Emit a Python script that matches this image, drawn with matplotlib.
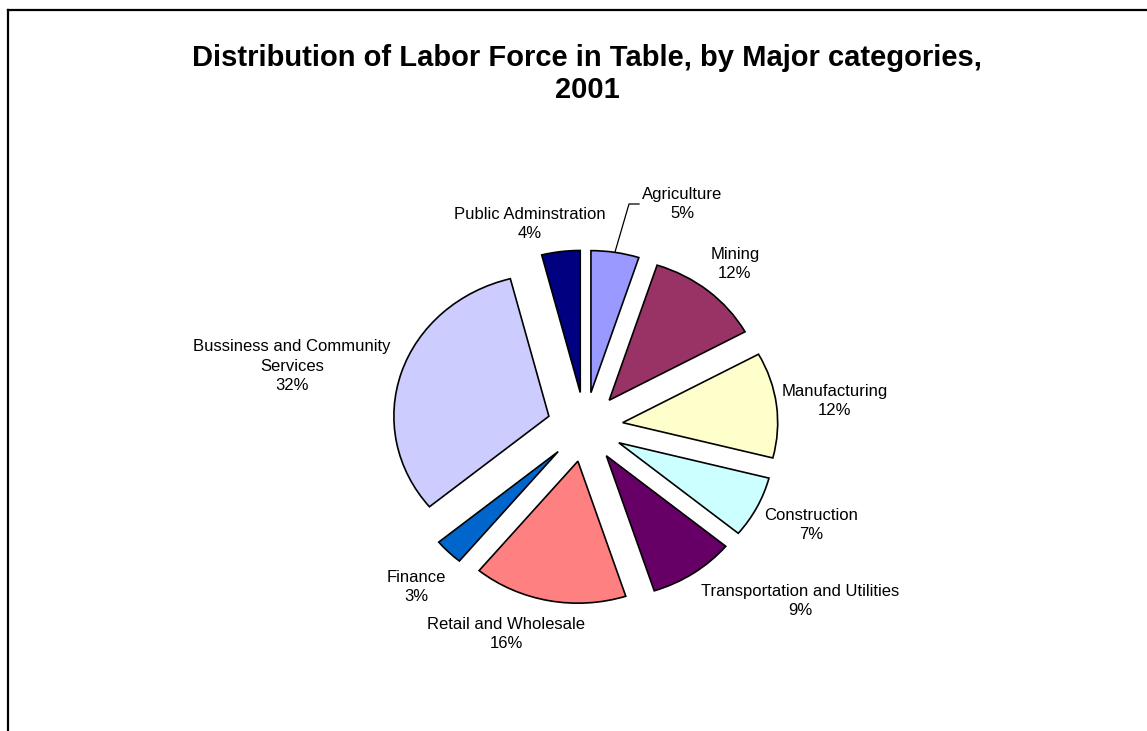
import numpy as np
import matplotlib
matplotlib.use("Agg")
from matplotlib import pyplot as plt
from matplotlib.lines import Line2D

# Répartition de la population active, 2001 (en %)
categories = ["Agriculture", "Mining", "Manufacturing", "Construction",
              "Transportation and Utilities", "Retail and Wholesale",
              "Finance", "Bussiness and Community\nServices",
              "Public Adminstration"]
parts = [5, 12, 12, 7, 9, 16, 3, 32, 4]
couleurs = ["#9999ff", "#993366", "#ffffcc", "#ccffff", "#660066",
            "#ff8080", "#0066cc", "#ccccff", "#000080"]

# position des étiquettes en pixels (x, y depuis le haut)
pos_etiquettes = [(682, 204), (735, 264), (835, 401), (811, 525), (800, 601),
                  (506, 634), (416, 587), (292, 366), (530, 224)]

W, H = 1147, 731
cx, cy = 585, 427          # centre du camembert (pixels)
sx, sy = 155, 142          # pixels par unité de rayon

fig = plt.figure(figsize=(W / 100, H / 100), dpi=100)
ax = fig.add_axes([0, 0, 1, 1])

ax.pie(parts, colors=couleurs, startangle=90, counterclock=False,
       explode=[0.245] * len(parts), radius=1.0,
       wedgeprops=dict(edgecolor="black", linewidth=1.2))
ax.set_aspect("auto")
ax.set_xlim(-cx / sx, (W - cx) / sx)
ax.set_ylim(-(H - cy) / sy, cy / sy)
ax.axis("off")

def px2data(x, y):
    return (x - cx) / sx, (cy - y) / sy

# étiquettes : nom + pourcentage
for nom, p, (x, y) in zip(categories, parts, pos_etiquettes):
    dx, dy = px2data(x, y)
    ax.text(dx, dy, "%s\n%d%%" % (nom, p), ha="center", va="center",
            fontsize=12, family="Liberation Sans", linespacing=1.35)

# trait de rappel pour Agriculture
lx, ly = zip(px2data(615, 252), px2data(629, 204), px2data(639, 204))
ax.plot(lx, ly, color="black", lw=0.9)

fig.text(587 / W, 1 - 74 / H,
         "Distribution of Labor Force in Table, by Major categories,\n2001",
         ha="center", va="center", fontsize=21, fontweight="bold",
         family="Liberation Sans", linespacing=1.2)

# cadre du graphique (haut et gauche)
fig.add_artist(Line2D([8 / W, 1], [1 - 10 / H, 1 - 10 / H], color="black",
                      lw=1.6, transform=fig.transFigure))
fig.add_artist(Line2D([8 / W, 8 / W], [0, 1 - 10 / H], color="black",
                      lw=1.6, transform=fig.transFigure))

fig.savefig("out.png", dpi=100, facecolor="white")
